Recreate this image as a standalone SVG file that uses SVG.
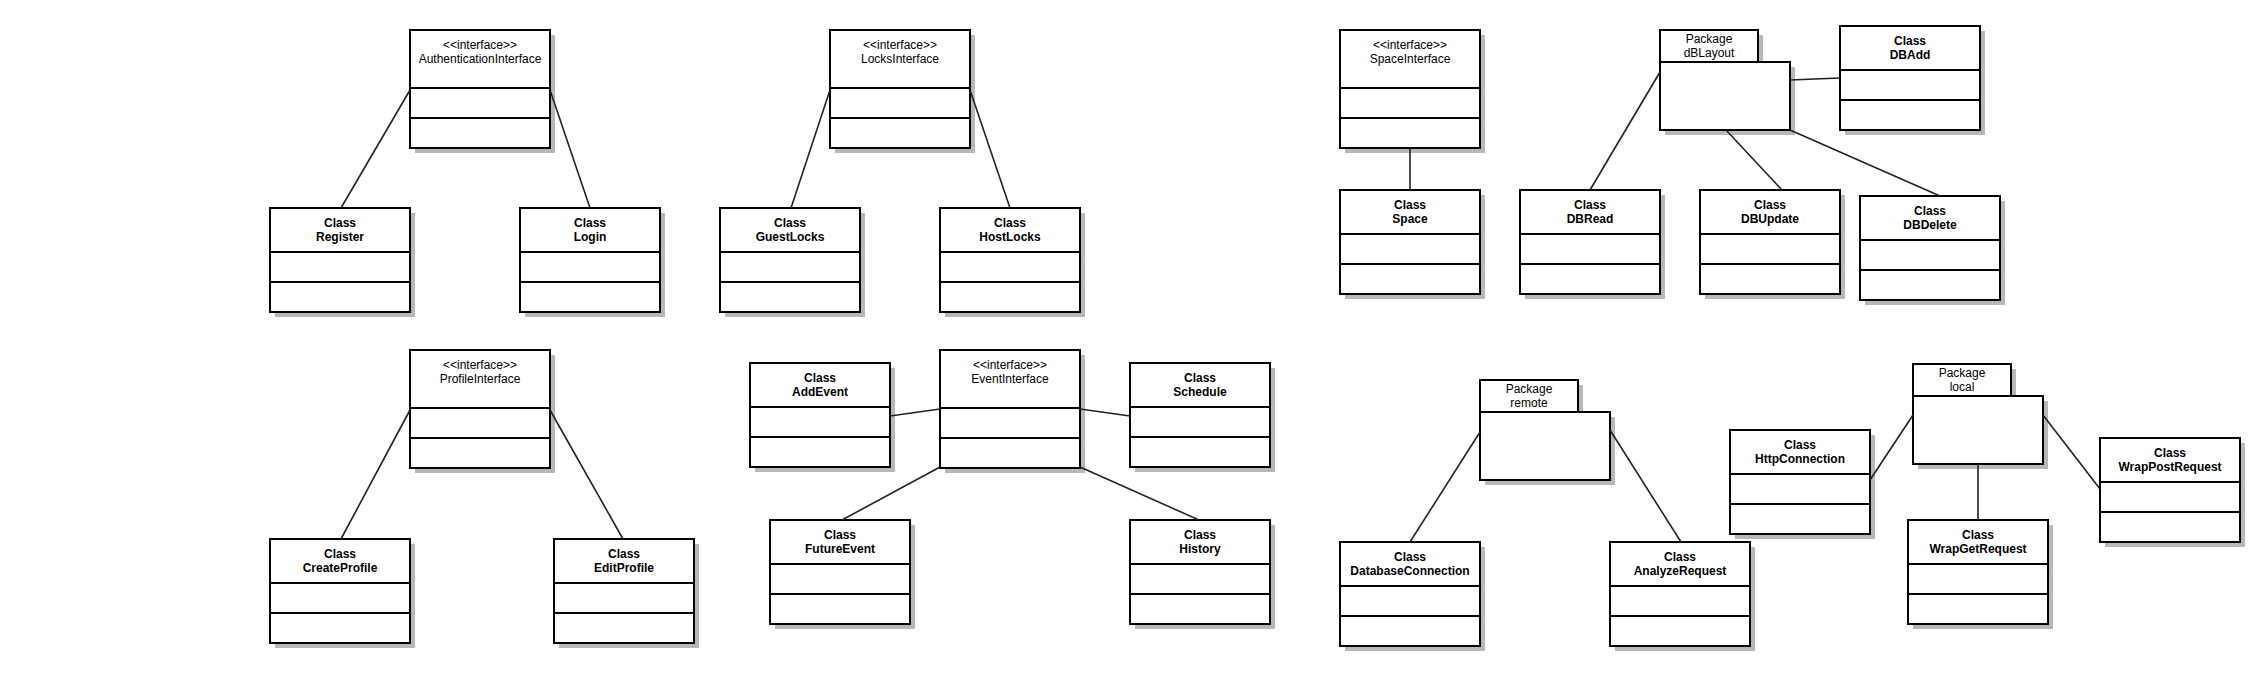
<svg xmlns="http://www.w3.org/2000/svg" width="2268" height="674" viewBox="0 0 2268 674">
<style>
.sh{fill:#b8b8b8;stroke:none}
.bx{fill:#fff;stroke:#000;stroke-width:2}
.dv{stroke:#000;stroke-width:2;fill:none}
.tk{stroke:#bdbdbd;stroke-width:1}
.c{stroke:#222;stroke-width:1.6;fill:none}
.n{font-family:"Liberation Sans",Arial,sans-serif;font-size:12px;text-anchor:middle;fill:#000}
.b{font-weight:bold}
</style>
<rect width="2268" height="674" fill="#fff"/>
<defs>
<g id="iface">
<rect class="sh" x="5" y="5" width="140" height="118"/>
<line class="tk" x1="141" y1="62" x2="145" y2="62"/>
<line class="tk" x1="141" y1="92" x2="145" y2="92"/>
<rect class="bx" x="0" y="0" width="140" height="118"/>
<line class="dv" x1="0" y1="58" x2="140" y2="58"/>
<line class="dv" x1="0" y1="88" x2="140" y2="88"/>
</g>
<g id="cls">
<rect class="sh" x="5" y="5" width="140" height="104"/>
<line class="tk" x1="141" y1="48" x2="145" y2="48"/>
<line class="tk" x1="141" y1="78" x2="145" y2="78"/>
<rect class="bx" x="0" y="0" width="140" height="104"/>
<line class="dv" x1="0" y1="44" x2="140" y2="44"/>
<line class="dv" x1="0" y1="74" x2="140" y2="74"/>
</g>
<g id="pkg">
<rect class="sh" x="5" y="5" width="98" height="32"/>
<rect class="sh" x="5" y="37" width="130" height="68"/>
<rect class="bx" x="0" y="0" width="98" height="32"/>
<rect class="bx" x="0" y="32" width="130" height="68"/>
</g>
</defs>

<g id="AuthenticationInterface" transform="translate(410,30)"><use href="#iface"/><text class="n" x="70" y="19">&lt;&lt;interface&gt;&gt;</text><text class="n" x="70" y="33">AuthenticationInterface</text></g>
<g id="LocksInterface" transform="translate(830,30)"><use href="#iface"/><text class="n" x="70" y="19">&lt;&lt;interface&gt;&gt;</text><text class="n" x="70" y="33">LocksInterface</text></g>
<g id="SpaceInterface" transform="translate(1340,30)"><use href="#iface"/><text class="n" x="70" y="19">&lt;&lt;interface&gt;&gt;</text><text class="n" x="70" y="33">SpaceInterface</text></g>
<g id="ProfileInterface" transform="translate(410,350)"><use href="#iface"/><text class="n" x="70" y="19">&lt;&lt;interface&gt;&gt;</text><text class="n" x="70" y="33">ProfileInterface</text></g>
<g id="EventInterface" transform="translate(940,350)"><use href="#iface"/><text class="n" x="70" y="19">&lt;&lt;interface&gt;&gt;</text><text class="n" x="70" y="33">EventInterface</text></g>

<g id="Register" transform="translate(270,208)"><use href="#cls"/><text class="n b" x="70" y="19">Class</text><text class="n b" x="70" y="33">Register</text></g>
<g id="Login" transform="translate(520,208)"><use href="#cls"/><text class="n b" x="70" y="19">Class</text><text class="n b" x="70" y="33">Login</text></g>
<g id="GuestLocks" transform="translate(720,208)"><use href="#cls"/><text class="n b" x="70" y="19">Class</text><text class="n b" x="70" y="33">GuestLocks</text></g>
<g id="HostLocks" transform="translate(940,208)"><use href="#cls"/><text class="n b" x="70" y="19">Class</text><text class="n b" x="70" y="33">HostLocks</text></g>
<g id="Space" transform="translate(1340,190)"><use href="#cls"/><text class="n b" x="70" y="19">Class</text><text class="n b" x="70" y="33">Space</text></g>
<g id="DBRead" transform="translate(1520,190)"><use href="#cls"/><text class="n b" x="70" y="19">Class</text><text class="n b" x="70" y="33">DBRead</text></g>
<g id="DBUpdate" transform="translate(1700,190)"><use href="#cls"/><text class="n b" x="70" y="19">Class</text><text class="n b" x="70" y="33">DBUpdate</text></g>
<g id="DBDelete" transform="translate(1860,196)"><use href="#cls"/><text class="n b" x="70" y="19">Class</text><text class="n b" x="70" y="33">DBDelete</text></g>
<g id="DBAdd" transform="translate(1840,26)"><use href="#cls"/><text class="n b" x="70" y="19">Class</text><text class="n b" x="70" y="33">DBAdd</text></g>
<g id="CreateProfile" transform="translate(270,539)"><use href="#cls"/><text class="n b" x="70" y="19">Class</text><text class="n b" x="70" y="33">CreateProfile</text></g>
<g id="EditProfile" transform="translate(554,539)"><use href="#cls"/><text class="n b" x="70" y="19">Class</text><text class="n b" x="70" y="33">EditProfile</text></g>
<g id="AddEvent" transform="translate(750,363)"><use href="#cls"/><text class="n b" x="70" y="19">Class</text><text class="n b" x="70" y="33">AddEvent</text></g>
<g id="Schedule" transform="translate(1130,363)"><use href="#cls"/><text class="n b" x="70" y="19">Class</text><text class="n b" x="70" y="33">Schedule</text></g>
<g id="FutureEvent" transform="translate(770,520)"><use href="#cls"/><text class="n b" x="70" y="19">Class</text><text class="n b" x="70" y="33">FutureEvent</text></g>
<g id="History" transform="translate(1130,520)"><use href="#cls"/><text class="n b" x="70" y="19">Class</text><text class="n b" x="70" y="33">History</text></g>
<g id="DatabaseConnection" transform="translate(1340,542)"><use href="#cls"/><text class="n b" x="70" y="19">Class</text><text class="n b" x="70" y="33">DatabaseConnection</text></g>
<g id="AnalyzeRequest" transform="translate(1610,542)"><use href="#cls"/><text class="n b" x="70" y="19">Class</text><text class="n b" x="70" y="33">AnalyzeRequest</text></g>
<g id="HttpConnection" transform="translate(1730,430)"><use href="#cls"/><text class="n b" x="70" y="19">Class</text><text class="n b" x="70" y="33">HttpConnection</text></g>
<g id="WrapGetRequest" transform="translate(1908,520)"><use href="#cls"/><text class="n b" x="70" y="19">Class</text><text class="n b" x="70" y="33">WrapGetRequest</text></g>
<g id="WrapPostRequest" transform="translate(2100,438)"><use href="#cls"/><text class="n b" x="70" y="19">Class</text><text class="n b" x="70" y="33">WrapPostRequest</text></g>

<g id="dBLayout" transform="translate(1660,30)"><use href="#pkg"/><text class="n" x="49" y="13">Package</text><text class="n" x="49" y="27">dBLayout</text></g>
<g id="remote" transform="translate(1480,380)"><use href="#pkg"/><text class="n" x="49" y="13">Package</text><text class="n" x="49" y="27">remote</text></g>
<g id="local" transform="translate(1913,364)"><use href="#pkg"/><text class="n" x="49" y="13">Package</text><text class="n" x="49" y="27">local</text></g>

<g id="connectors">
<line class="c" x1="341" y1="208" x2="410" y2="90"/>
<line class="c" x1="590" y1="208" x2="550" y2="90"/>
<line class="c" x1="791" y1="208" x2="830" y2="90"/>
<line class="c" x1="1010" y1="208" x2="970" y2="90"/>
<line class="c" x1="1410" y1="148" x2="1410" y2="190"/>
<line class="c" x1="1590" y1="190" x2="1660" y2="72"/>
<line class="c" x1="1790" y1="80" x2="1840" y2="78"/>
<line class="c" x1="1726" y1="130" x2="1782" y2="190"/>
<line class="c" x1="1790" y1="130" x2="1940" y2="196"/>
<line class="c" x1="341" y1="539" x2="410" y2="410"/>
<line class="c" x1="623" y1="539" x2="550" y2="410"/>
<line class="c" x1="890" y1="416" x2="940" y2="409"/>
<line class="c" x1="1080" y1="409" x2="1130" y2="416"/>
<line class="c" x1="842" y1="520" x2="940" y2="467"/>
<line class="c" x1="1199" y1="520" x2="1080" y2="467"/>
<line class="c" x1="1410" y1="542" x2="1480" y2="432"/>
<line class="c" x1="1681" y1="542" x2="1610" y2="430"/>
<line class="c" x1="1870" y1="480" x2="1913" y2="415"/>
<line class="c" x1="1978" y1="464" x2="1978" y2="520"/>
<line class="c" x1="2043" y1="415" x2="2100" y2="489"/>
</g>
</svg>
